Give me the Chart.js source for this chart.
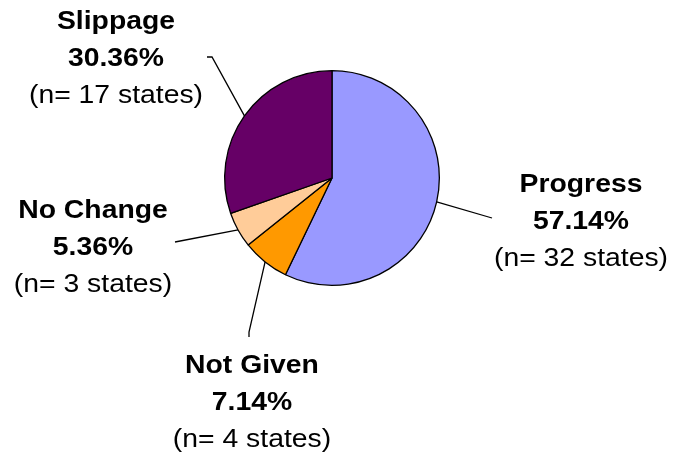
<!DOCTYPE html>
<html>
<head>
<meta charset="utf-8">
<script src="https://cdn.jsdelivr.net/npm/chart.js@4/dist/chart.umd.min.js"></script>
<style>
html,body{margin:0;padding:0;background:#fff;}
#wrap{position:relative;width:673px;height:455px;}
</style>
</head>
<body>
<div id="wrap"><canvas id="c" width="673" height="455"></canvas></div>
<script>
const categories = ["Progress", "Not Given", "No Change", "Slippage"];
const percents = [57.14, 7.14, 5.36, 30.36];
const stateCounts = [32, 4, 3, 17];
const sliceColors = ["#9999FF", "#FF9900", "#FFCC99", "#660066"];

// label layout: text centre x, first baseline y, leader-line end points
const labelLayout = [
  { x: 581, y: 191.5, line: [[492, 218]] },
  { x: 252, y: 373,   line: [[249, 332], [249, 337]] },
  { x: 93,  y: 218,   line: [[175, 242]] },
  { x: 116, y: 28.5,  line: [[212, 57], [207, 57]] }
];

const labelPlugin = {
  id: 'pieLabels',
  afterDatasetsDraw(chart) {
    const ctx = chart.ctx;
    const meta = chart.getDatasetMeta(0);
    const put = (txt, x, y) => {
      ctx.save();
      ctx.translate(x, y);
      ctx.scale(1.09, 1);
      ctx.fillText(txt, 0, 0);
      ctx.restore();
    };
    ctx.save();
    meta.data.forEach((arc, i) => {
      const mid = (arc.startAngle + arc.endAngle) / 2;
      const sx = arc.x + Math.cos(mid) * arc.outerRadius;
      const sy = arc.y + Math.sin(mid) * arc.outerRadius;
      const L = labelLayout[i];
      ctx.beginPath();
      ctx.strokeStyle = '#000';
      ctx.lineWidth = 1.3;
      ctx.moveTo(sx, sy);
      L.line.forEach(p => ctx.lineTo(p[0], p[1]));
      ctx.stroke();
      ctx.fillStyle = '#000';
      ctx.textAlign = 'center';
      ctx.textBaseline = 'alphabetic';
      ctx.font = 'bold 26px "Liberation Sans", Arial, sans-serif';
      put(categories[i], L.x, L.y);
      put(percents[i].toFixed(2) + '%', L.x, L.y + 37);
      ctx.font = '26px "Liberation Sans", Arial, sans-serif';
      put('(n= ' + stateCounts[i] + ' states)', L.x, L.y + 74);
    });
    ctx.restore();
  }
};

new Chart(document.getElementById('c'), {
  type: 'pie',
  data: {
    labels: categories,
    datasets: [{
      data: percents,
      backgroundColor: sliceColors,
      borderColor: '#000000',
      borderWidth: 1.3
    }]
  },
  options: {
    responsive: false,
    animation: false,
    layout: { padding: { left: 224, right: 233, top: 70, bottom: 169 } },
    plugins: { legend: { display: false }, tooltip: { enabled: false } }
  },
  plugins: [labelPlugin]
});
</script>
</body>
</html>
